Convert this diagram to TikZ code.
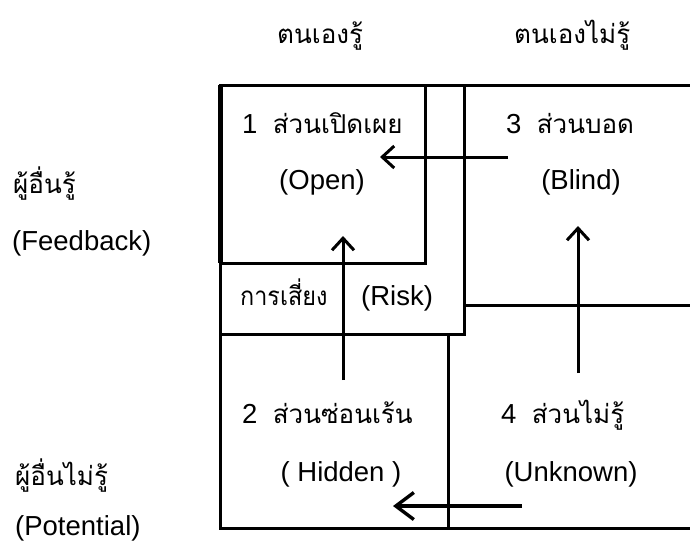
\documentclass[tikz,border=0pt]{standalone}
\usepackage{fontspec}
\setmainfont{Liberation Sans}
\newfontfamily\thaiface[Script=Thai]{Loma}
\newcommand{\thaitxt}{\thaiface\fontsize{26}{30}\selectfont}
\usetikzlibrary{arrows.meta}
\begin{document}
\begin{tikzpicture}[x=1pt,y=-1pt,
  txt/.style={inner sep=0pt,font=\fontsize{27.5}{32}\selectfont},
  frame/.style={line width=3pt,line cap=rect},
  arr/.style={line width=3pt,-{Straight Barb[length=12pt,width=22pt,line width=3pt]}},
  bigarr/.style={line width=3.4pt,-{Straight Barb[length=18pt,width=27pt,line width=3.4pt]}}]
\useasboundingbox (0,0) rectangle (690,544);
% frame
\draw[frame] (220,85) -- (690,85);
\draw[frame] (220,85) rectangle (425,263);
\draw[line width=5.5pt] (220.5,85) -- (220.5,263);
\draw[frame] (220,263) -- (220,528) -- (690,528);
\draw[frame] (464,85) -- (464,334) -- (220,334);
\draw[frame] (464,305) -- (690,305);
\draw[frame] (448,334) -- (448,528);
% headers
\node[txt,anchor=base west] (selfk) at (277,43) {\thaitxt ตนเองรู้};
\node[txt,anchor=base west] (selfu) at (514,43) {\thaitxt ตนเองไม่รู้};
\node[txt,anchor=base west] (othk) at (13,193) {\thaitxt ผู้อื่นรู้};
\node[txt,anchor=base west] (fb) at (12,250) {(Feedback)};
\node[txt,anchor=base west] (othu) at (15,485) {\thaitxt ผู้อื่นไม่รู้};
\node[txt,anchor=base west] (pot) at (15,535) {(Potential)};
% quadrants
\node[txt,anchor=base west] (q1) at (242,133) {1\ \ {\thaitxt ส่วนเปิดเผย}};
\node[txt,anchor=base] (q1e) at (322,189) {(Open)};
\node[txt,anchor=base west] (q3) at (506,133) {3\ \ {\thaitxt ส่วนบอด}};
\node[txt,anchor=base] (q3e) at (581,189) {(Blind)};
\node[txt,anchor=base west,xscale=0.9] (risk) at (240,305) {\thaitxt การเสี่ยง};
\node[txt,anchor=base west] (riske) at (361,305) {(Risk)};
\node[txt,anchor=base west] (q2) at (242,423) {2\ \ {\thaitxt ส่วนซ่อนเร้น}};
\node[txt,anchor=base] (q2e) at (341,481) {( Hidden )};
\node[txt,anchor=base west] (q4) at (501,423) {4\ \ {\thaitxt ส่วนไม่รู้}};
\node[txt,anchor=base] (q4e) at (571,481) {(Unknown)};
% arrows
\coordinate (a1s) at (508,157); \coordinate (a1e) at (380,157);
\coordinate (a2s) at (343,380); \coordinate (a2e) at (343,236);
\coordinate (a3s) at (578,373); \coordinate (a3e) at (578,226);
\coordinate (a4s) at (522,506); \coordinate (a4e) at (393,506);
\draw[arr] (a1s) -- (a1e);
\draw[arr] (a2s) -- (a2e);
\draw[arr] (a3s) -- (a3e);
\draw[bigarr] (a4s) -- (a4e);
\end{tikzpicture}
\end{document}
